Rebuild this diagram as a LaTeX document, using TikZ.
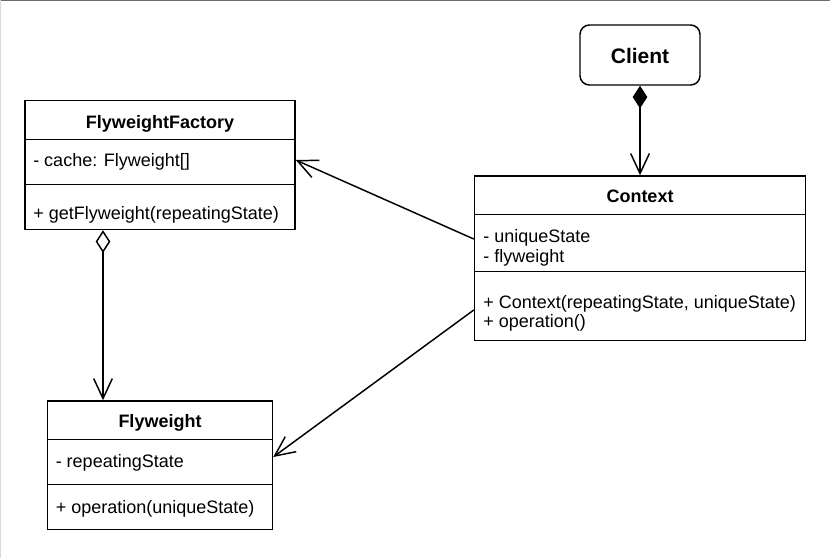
\documentclass[tikz,border=0pt]{standalone}
\usepackage{fontspec}
\setmainfont{Liberation Sans}
\usetikzlibrary{arrows.meta,fit}
\begin{document}
\begin{tikzpicture}[x=0.75pt,y=-0.75pt,
  box/.style={draw,line width=1.1pt,inner sep=0pt,fill=white},
  ttl/.style={font=\fontsize{13.5}{16}\selectfont\bfseries,anchor=base,inner sep=0pt},
  txt/.style={font=\fontsize{13.5}{16}\selectfont,anchor=base west,inner sep=0pt},
  sep/.style={line width=1.1pt},
  conn/.style={line width=1.1pt},
  openarr/.style={-{Straight Barb[length=15pt,width=14pt,line width=1.1pt]}}
]
\useasboundingbox (0,0) rectangle (830,558);
\fill[white] (0,0) rectangle (830,558);
\draw[gray!85!black,line width=1pt] (0,0.7) -- (830,0.7);
\draw[gray!30,line width=1pt] (0.7,0) -- (0.7,558);

% Client
\node[box,rounded corners=7pt,fit={(580,25) (700,85)}] (cl) {};
\node[font=\fontsize{15.75}{18}\selectfont\bfseries,anchor=base,inner sep=0pt] (clt) at (640,63) {Client};

% FlyweightFactory
\node[box,fit={(25,100.5) (295,229.5)}] (ff) {};
\draw[sep] (ff.west |- 0,139.5) -- (ff.east |- 0,139.5);
\draw[sep] (ff.west |- 0,184.5) -- (ff.east |- 0,184.5);
\node[ttl] (fft) at (160,128) {FlyweightFactory};
\node[txt] (ffa) at (33,166.5) {- cache: Flyweight[]};
\node[txt] (ffm) at (33,219) {+ getFlyweight(repeatingState)};

% Context
\node[box,fit={(474.5,176) (805.5,340.5)}] (ctx) {};
\draw[sep] (ctx.west |- 0,214.5) -- (ctx.east |- 0,214.5);
\draw[sep] (ctx.west |- 0,271.5) -- (ctx.east |- 0,271.5);
\node[ttl] (ctxt) at (640,202) {Context};
\node[txt] (ctxa1) at (483,242) {- uniqueState};
\node[txt] (ctxa2) at (483,262) {- flyweight};
\node[txt] (ctxm1) at (483,308) {+ Context(repeatingState, uniqueState)};
\node[txt] (ctxm2) at (483,327) {+ operation()};

% Flyweight
\node[box,fit={(47.5,401) (272.5,529.5)}] (fw) {};
\draw[sep] (fw.west |- 0,439.5) -- (fw.east |- 0,439.5);
\draw[sep] (fw.west |- 0,484.5) -- (fw.east |- 0,484.5);
\node[ttl] (fwt) at (160,427.5) {Flyweight};
\node[txt] (fwa) at (55.5,467.5) {- repeatingState};
\node[txt] (fwm) at (55.5,513.5) {+ operation(uniqueState)};

% connectors
\draw[conn,{Diamond[length=17pt,width=11pt]}-{Straight Barb[length=15pt,width=14pt,line width=1.1pt]}] (cl.south) -- (ctx.north);
\draw[conn,{Diamond[open,length=17pt,width=11pt]}-{Straight Barb[length=15pt,width=14pt,line width=1.1pt]}] (ff.south -| 103,0) -- (fw.north -| 103,0);
\draw[conn,openarr] (ctx.west |- 0,239) -- (ff.east |- 0,160);
\draw[conn,openarr] (ctx.west |- 0,310) -- (fw.east |- 0,457);
\end{tikzpicture}
\end{document}
